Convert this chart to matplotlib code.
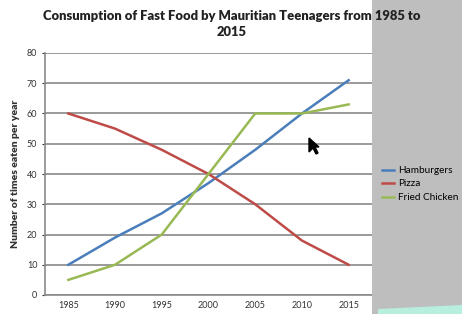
"""Line chart: fast food consumption by Mauritian teenagers, 1985-2015."""

import matplotlib
matplotlib.use("Agg")
import matplotlib.pyplot as plt
from matplotlib.patches import Polygon, Rectangle

years = ["1985", "1990", "1995", "2000", "2005", "2010", "2015"]
hamburgers = [10, 19, 27, 37, 48, 60, 71]
pizza = [60, 55, 48, 40, 30, 18, 10]
fried_chicken = [5, 10, 20, 40, 60, 60, 63]
y_ticks = [0, 10, 20, 30, 40, 50, 60, 70, 80]

SERIES_COLORS = {
    "Hamburgers": "#4a7ebb",
    "Pizza": "#be4b48",
    "Fried Chicken": "#98b954",
}

plt.rcParams["font.family"] = ["Lato", "DejaVu Sans"]

fig = plt.figure(figsize=(4.62, 3.14), dpi=100)
fig.patch.set_facecolor("white")

# grey screen region on the right of the screenshot
fig.patches.append(Rectangle((372 / 462, 0), 1 - 372 / 462, 1,
                             transform=fig.transFigure, facecolor="#bebebe",
                             edgecolor="none", zorder=0))
fig.patches.append(Polygon([(378 / 462, 0), (378 / 462, 5 / 314),
                            (1.0, 9 / 314), (1.0, 0)],
                           closed=True, transform=fig.transFigure,
                           facecolor="#b8eedd", edgecolor="none", zorder=1))

ax = fig.add_axes([45 / 462, 19 / 314, 327 / 462, 242 / 314])
ax.set_facecolor("white")

x = range(len(years))
ax.plot(x, hamburgers, color=SERIES_COLORS["Hamburgers"], lw=1.8, label="Hamburgers", zorder=3)
ax.plot(x, pizza, color=SERIES_COLORS["Pizza"], lw=1.8, label="Pizza", zorder=3)
ax.plot(x, fried_chicken, color=SERIES_COLORS["Fried Chicken"], lw=1.8, label="Fried Chicken", zorder=3)

ax.set_xlim(-0.5, len(years) - 0.5)
ax.set_ylim(0, 80)
ax.set_yticks(y_ticks)
ax.set_xticks(list(x))
ax.set_xticklabels(years)
ax.tick_params(axis="both", labelsize=6.5, colors="#333333", length=2, width=0.8)
ax.tick_params(axis="x", length=0, pad=4)
ax.yaxis.grid(True, color="#9a9a9a", lw=1.4)
ax.set_axisbelow(True)
for side in ["top", "right"]:
    ax.spines[side].set_visible(False)
for side in ["left", "bottom"]:
    ax.spines[side].set_color("#8a8a8a")
    ax.spines[side].set_linewidth(1.2)

ax.set_ylabel("Number of times eaten per year", fontsize=7.5, fontweight="heavy",
              color="#333333", labelpad=5)

fig.text(232 / 462, 1 - 24 / 314,
         "Consumption of Fast Food by Mauritian Teenagers from 1985 to\n2015",
         ha="center", va="center", fontsize=9.4, fontweight="heavy",
         color="#222222", linespacing=1.45, zorder=5)

fig.legend(loc="center left", bbox_to_anchor=(378 / 462, 1 - 184 / 314),
           fontsize=7.2, frameon=False, handlelength=1.2, handletextpad=0.4,
           labelspacing=0.45, borderaxespad=0)

# mouse cursor visible in the screenshot
cx, cy = 309 / 462, 1 - 138 / 314
fig.patches.append(Polygon([(cx, cy), (cx, cy - 14 / 314), (cx + 4 / 462, cy - 10 / 314),
                            (cx + 7 / 462, cy - 16 / 314), (cx + 9 / 462, cy - 15 / 314),
                            (cx + 6 / 462, cy - 9 / 314), (cx + 10 / 462, cy - 9 / 314)],
                           closed=True, transform=fig.transFigure,
                           facecolor="black", edgecolor="black", zorder=10))

fig.savefig("out.png", dpi=100)
